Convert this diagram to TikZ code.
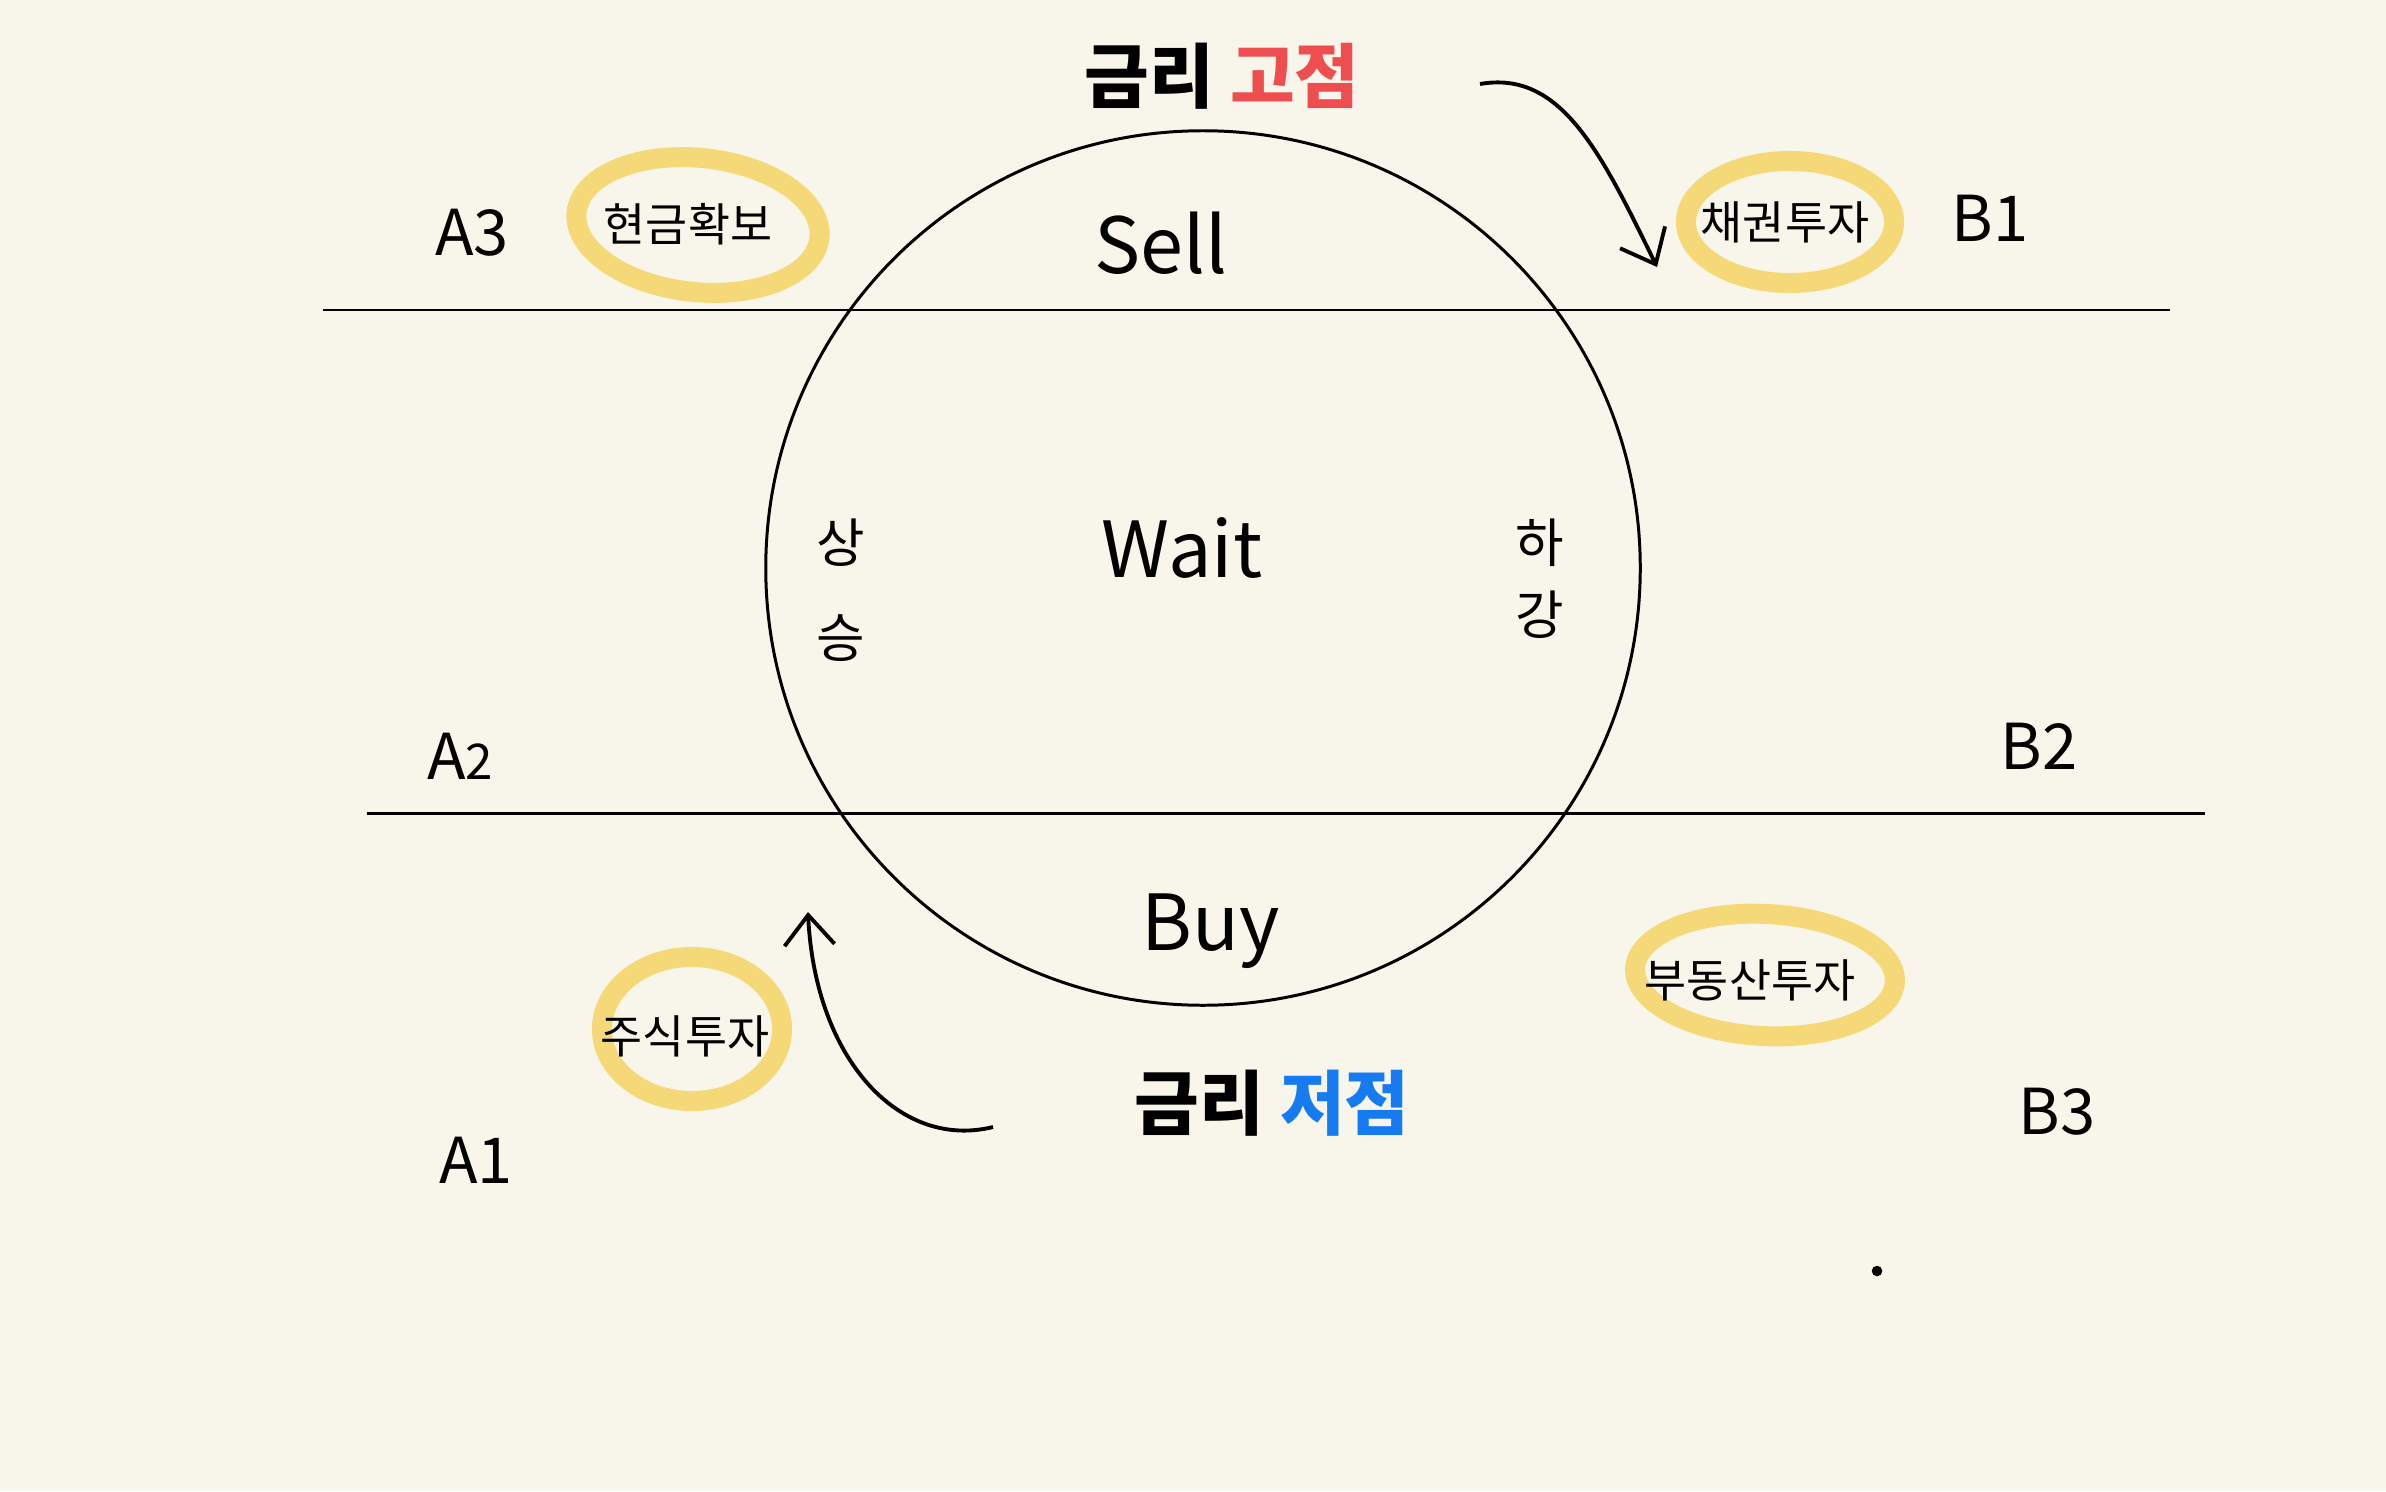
\documentclass[tikz,border=0pt]{standalone}
\usepackage{fontspec}
\setmainfont{Noto Sans CJK KR}
\usetikzlibrary{arrows.meta}
\definecolor{paper}{RGB}{248,246,235}
\definecolor{hilite}{RGB}{245,217,120}
\definecolor{hotred}{RGB}{238,78,80}
\definecolor{coolblue}{RGB}{22,122,240}

\begin{document}
\begin{tikzpicture}[x=0.01cm, y=-0.01cm,
  tag/.style={font=\fontsize{18}{18}\selectfont},
  word/.style={font=\fontsize{22}{22}\selectfont},
  kor/.style={font=\fontsize{13}{13}\selectfont},
  side/.style={align=center, font=\fontsize{15}{27}\selectfont},
  head/.style={font=\fontsize{20}{20}\selectfont\bfseries},
  hl/.style={draw=hilite, line width=0.2cm},
  rule/.style={line width=0.85pt},
  arr/.style={-{Straight Barb[length=3mm, width=5mm]}, line width=1.1pt}]
\fill[paper] (0,0) rectangle (2386,1491);
\useasboundingbox (0,0) rectangle (2386,1491);
% highlight rings
\coordinate (cashc) at (698,225);
\coordinate (bondc) at (1790,222);
\coordinate (stockc) at (692,1029);
\coordinate (estc) at (1765,975);
\draw[hl, rotate around={-6:(cashc)}] (cashc) ellipse [x radius=1.22cm, y radius=0.67cm];
\draw[hl] (bondc) ellipse [x radius=1.04cm, y radius=0.61cm];
\draw[hl] (stockc) ellipse [x radius=0.90cm, y radius=0.72cm];
\draw[hl, rotate around={-3:(estc)}] (estc) ellipse [x radius=1.30cm, y radius=0.61cm];
% cycle and level lines
\node[draw, circle, rule, minimum size=8.74cm, inner sep=0] (cyc) at (1203,568) {};
\coordinate (tl) at (323,310); \coordinate (tr) at (2170,310);
\coordinate (bl) at (367,813); \coordinate (br) at (2205,813);
\draw[rule] (tl) -- (tr);
\draw[rule] (bl) -- (br);
% labels
\node[head] (high) at (1222,76) {금리 \textcolor{hotred}{고점}};
\node[head] (low) at (1272,1103) {금리 \textcolor{coolblue}{저점}};
\node[word] (sell) at (1161,243) {Sell};
\node[word] (wait) at (1182,548) {Wait};
\node[word] (buy) at (1211,931) {Buy};
\node[side] (rise) at (841,590) {상\\승};
\node[side, font=\fontsize{15}{20.5}\selectfont] (fall) at (1540,579) {하\\강};
\node[kor] (cash) at (688,224) {현금확보};
\node[kor] (bond) at (1785,222) {채권투자};
\node[kor] (stock) at (685,1036) {주식투자};
\node[kor] (estate) at (1750,980) {부동산투자};
\node[tag] (a3) at (472,233) {A3};
\node[tag] (a2) at (460,756) {A{\fontsize{14}{14}\selectfont 2}};
\node[tag] (a1) at (476,1160) {A1};
\node[tag] (b1) at (1990,218) {B1};
\node[tag] (b2) at (2039,746) {B2};
\node[tag] (b3) at (2057,1112) {B3};
% arrows
\coordinate (hs) at (1480,84); \coordinate (he) at (1657,267);
\coordinate (ls) at (993,1127); \coordinate (le) at (808,912);
\draw[arr] (hs) .. controls (1560,70) and (1600,150) .. (he);
\draw[arr] (ls) .. controls (900,1150) and (815,1060) .. (le);
\fill (1877,1271) circle (1.5pt);
\end{tikzpicture}
\end{document}
